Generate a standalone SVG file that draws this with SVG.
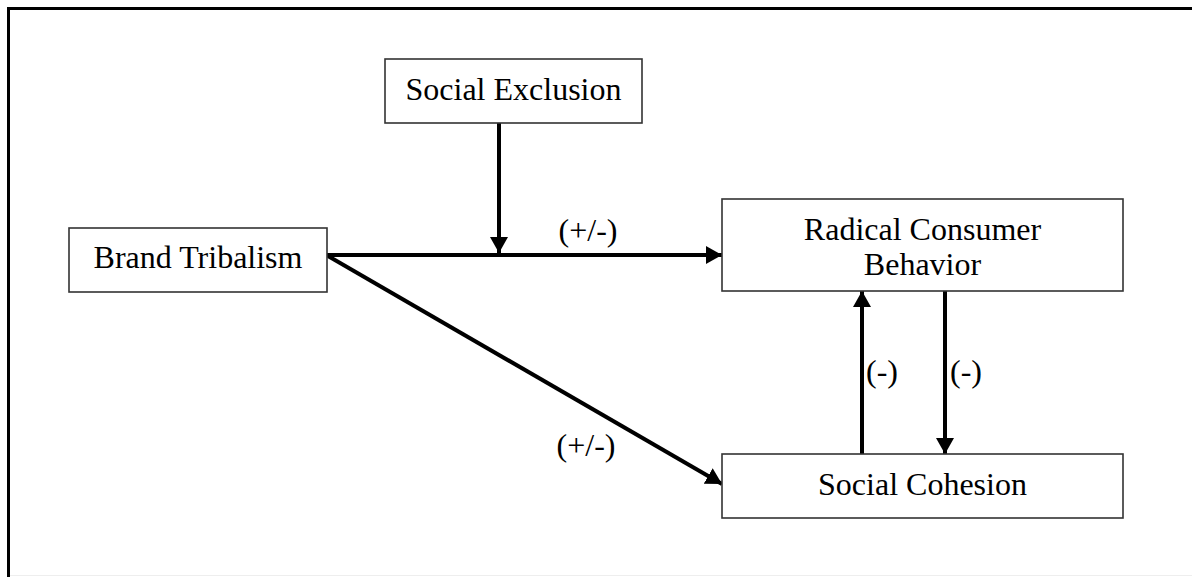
<svg xmlns="http://www.w3.org/2000/svg" width="1192" height="577" viewBox="0 0 1192 577">
<style>
.box{fill:#fff;stroke:#333;stroke-width:1.6}
.t{font-family:"Liberation Serif","Times New Roman",serif;font-size:32px;fill:#000;text-anchor:middle}
.c{stroke:#000;stroke-width:4;fill:none}
</style>
<defs>
<marker id="ah" viewBox="0 0 16 18" refX="16" refY="9" markerWidth="16" markerHeight="18" markerUnits="userSpaceOnUse" orient="auto">
<path d="M0,0 L16,9 L0,18 Z" fill="#000"/>
</marker>
</defs>
<rect width="1192" height="577" fill="#fff"/>
<path d="M8.5,577 V8.5 H1192" fill="none" stroke="#000" stroke-width="3"/>
<line x1="10" y1="575.5" x2="1192" y2="575.5" stroke="#eee" stroke-width="1"/>
<g id="connectors">
<line class="c" x1="327" y1="255" x2="722" y2="255" marker-end="url(#ah)"/>
<line class="c" x1="499" y1="123" x2="499" y2="253" marker-end="url(#ah)"/>
<line class="c" x1="328" y1="256" x2="722" y2="484" marker-end="url(#ah)"/>
<line class="c" x1="862" y1="454" x2="862" y2="291" marker-end="url(#ah)"/>
<line class="c" x1="945" y1="291" x2="945" y2="454" marker-end="url(#ah)"/>
<text class="t" x="588" y="241">(+/-)</text>
<text class="t" x="586" y="456">(+/-)</text>
<text class="t" x="882" y="382">(-)</text>
<text class="t" x="966" y="382">(-)</text>
</g>
<g id="social-exclusion">
<rect class="box" x="385" y="59" width="257" height="64"/>
<text class="t" x="513.5" y="100">Social Exclusion</text>
</g>
<g id="brand-tribalism">
<rect class="box" x="69" y="228" width="258" height="64"/>
<text class="t" x="198" y="268">Brand Tribalism</text>
</g>
<g id="radical-consumer-behavior">
<rect class="box" x="722" y="199" width="401" height="92"/>
<text class="t" x="922.5" y="240">Radical Consumer</text>
<text class="t" x="922.5" y="275">Behavior</text>
</g>
<g id="social-cohesion">
<rect class="box" x="722" y="454" width="401" height="64"/>
<text class="t" x="922.5" y="495">Social Cohesion</text>
</g>
</svg>
